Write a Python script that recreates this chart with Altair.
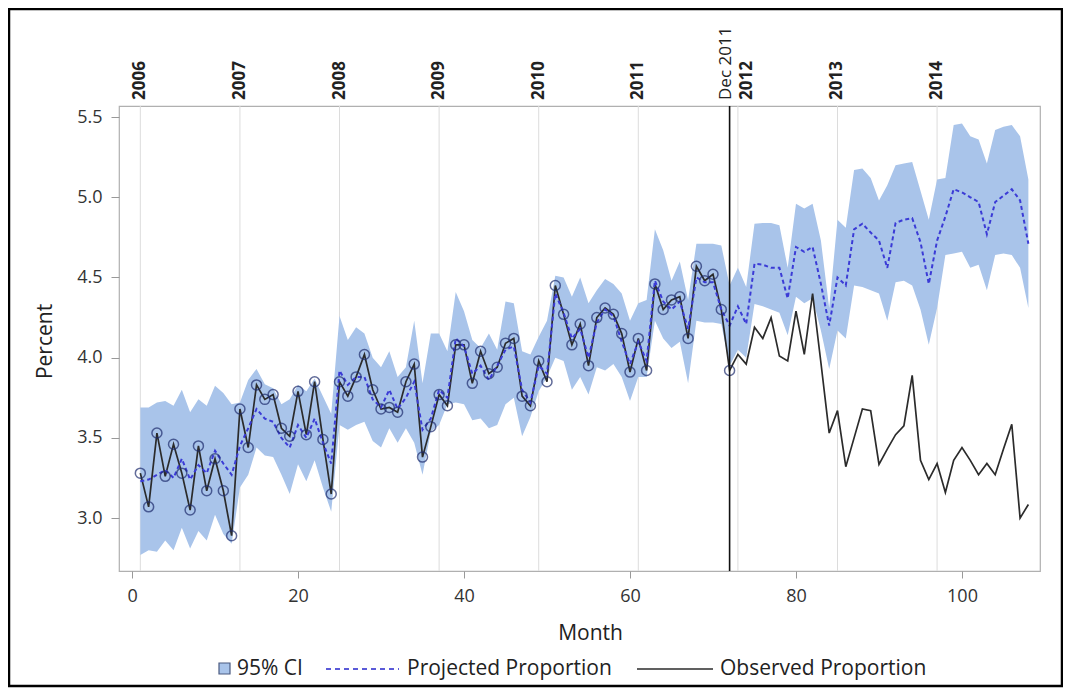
import altair as alt
import pandas as pd

# ---------------- data ----------------
months = list(range(1, 109))

observed = [
    3.28, 3.07, 3.53, 3.26, 3.46, 3.28, 3.05, 3.45, 3.17, 3.37, 3.17, 2.89,
    3.68, 3.44, 3.83, 3.74, 3.77, 3.56, 3.51, 3.79, 3.52, 3.85, 3.49, 3.15,
    3.85, 3.76, 3.88, 4.02, 3.80, 3.68, 3.69, 3.66, 3.85, 3.96, 3.38, 3.57,
    3.77, 3.70, 4.08, 4.08, 3.84, 4.04, 3.90, 3.94, 4.09, 4.12, 3.76, 3.70,
    3.98, 3.85, 4.45, 4.27, 4.08, 4.21, 3.95, 4.25, 4.31, 4.27, 4.15, 3.91,
    4.12, 3.92, 4.46, 4.30, 4.36, 4.38, 4.12, 4.57, 4.48, 4.52, 4.30, 3.92,
    4.02, 3.96, 4.19, 4.12, 4.25, 4.01, 3.98, 4.29, 4.02, 4.40, 3.97, 3.53,
    3.67, 3.32, 3.50, 3.68, 3.67, 3.335, 3.43, 3.52, 3.575, 3.89, 3.36, 3.24,
    3.34, 3.16, 3.36, 3.44, 3.36, 3.27, 3.34, 3.27, 3.43, 3.585, 3.00, 3.085,
]

projected = [
    3.23, 3.24, 3.27, 3.30, 3.25, 3.37, 3.24, 3.33, 3.28, 3.42, 3.34, 3.27,
    3.45, 3.56, 3.68, 3.62, 3.60, 3.50, 3.44, 3.58, 3.50, 3.62, 3.47, 3.34,
    3.92, 3.83, 3.88, 3.88, 3.74, 3.69, 3.80, 3.68, 3.75, 3.85, 3.55, 3.62,
    3.80, 3.75, 4.12, 4.07, 3.90, 3.95, 3.86, 3.95, 4.05, 4.07, 3.80, 3.72,
    3.95, 3.90, 4.40, 4.28, 4.12, 4.18, 4.00, 4.22, 4.30, 4.26, 4.10, 3.96,
    4.10, 3.98, 4.48, 4.35, 4.30, 4.35, 4.18, 4.50, 4.47, 4.47, 4.30, 4.20,
    4.32, 4.21, 4.585, 4.58, 4.56, 4.56, 4.37, 4.69, 4.66, 4.69, 4.46, 4.20,
    4.50, 4.45, 4.80, 4.835, 4.78, 4.73, 4.56, 4.84, 4.86, 4.87, 4.72, 4.46,
    4.73, 4.88, 5.05, 5.03, 5.00, 4.97, 4.77, 4.97, 5.01, 5.05, 4.98, 4.71,
]

ci_upper = [
    3.69, 3.69, 3.72, 3.73, 3.70, 3.80, 3.66, 3.74, 3.70, 3.825, 3.78, 3.71,
    3.72, 3.86, 3.93, 3.835, 3.81, 3.71, 3.74, 3.83, 3.79, 3.87, 3.76, 3.65,
    4.26, 4.11, 4.19, 4.15, 4.00, 3.94, 4.04, 3.88, 3.94, 4.23, 3.84, 4.15,
    4.15, 4.04, 4.41, 4.29, 4.11, 4.06, 4.15, 4.05, 4.35, 4.34, 4.04, 4.02,
    4.13, 4.23, 4.51, 4.50, 4.38, 4.50, 4.34, 4.42, 4.49, 4.46, 4.40, 4.23,
    4.34, 4.36, 4.80, 4.67, 4.48, 4.60, 4.36, 4.71, 4.71, 4.71, 4.70, 4.45,
    4.56, 4.44, 4.835, 4.84, 4.84, 4.825, 4.56, 4.96, 4.93, 4.96, 4.73, 4.31,
    4.86, 4.81, 5.17, 5.18, 5.12, 4.98, 5.075, 5.20, 5.21, 5.22, 5.04, 4.86,
    5.11, 5.12, 5.45, 5.46, 5.38, 5.36, 5.21, 5.42, 5.44, 5.45, 5.38, 5.11,
]

ci_lower = [
    2.77, 2.80, 2.79, 2.86, 2.80, 2.94, 2.81, 2.92, 2.86, 3.02, 2.90, 2.84,
    3.19, 3.27, 3.44, 3.39, 3.38, 3.27, 3.15, 3.335, 3.23, 3.36, 3.19, 3.04,
    3.58, 3.55, 3.58, 3.60, 3.48, 3.44, 3.56, 3.47, 3.56, 3.47, 3.27, 3.54,
    3.58, 3.71, 3.72, 3.71, 3.61, 3.62, 3.56, 3.58, 3.71, 3.75, 3.51, 3.63,
    3.79, 3.88, 4.00, 3.98, 3.80, 3.88, 3.77, 3.94, 3.92, 3.96, 3.88, 3.73,
    3.88, 3.88, 4.23, 4.12, 4.06, 4.10, 3.84, 4.23, 4.22, 4.22, 4.21, 3.95,
    4.05, 4.00, 4.335, 4.32, 4.30, 4.28, 4.14, 4.38, 4.34, 4.37, 4.17, 3.93,
    4.17, 4.12, 4.45, 4.44, 4.42, 4.40, 4.23, 4.47, 4.48, 4.45, 4.30, 4.08,
    4.31, 4.64, 4.65, 4.66, 4.56, 4.58, 4.42, 4.64, 4.65, 4.64, 4.56, 4.31,
]

last_observed_marked = 72          # months with circle markers
cutoff_month = 72
cutoff_label = "Dec 2011"

year_labels = ["2006", "2007", "2008", "2009", "2010", "2011", "2013", "2014"]
year_label_months = [1, 13, 25, 37, 49, 61, 85, 97]
label_2012 = "2012"
month_2012 = 73
grid_months = [1, 13, 25, 37, 49, 61, 73, 85, 97]

x_ticks = [0, 20, 40, 60, 80, 100]
y_ticks = [3.0, 3.5, 4.0, 4.5, 5.0, 5.5]

legend_ci = "95% CI"
legend_proj = "Projected Proportion"
legend_obs = "Observed Proportion"

# ---------------- tables ----------------
df = pd.DataFrame({
    "Month": months,
    "Observed": observed,
    "Projected": projected,
    "Lower": ci_lower,
    "Upper": ci_upper,
})
df_marked = df[df["Month"] <= last_observed_marked]
df_grid = pd.DataFrame({"Month": grid_months})
df_years = pd.DataFrame({"Month": year_label_months, "Label": year_labels})
df_2012 = pd.DataFrame({"Month": [month_2012], "Label": [label_2012]})
df_cut = pd.DataFrame({"Month": [cutoff_month], "Label": [cutoff_label]})
one = pd.DataFrame({"k": [0]})

W, H = 921, 465
FONT = "Open Sans"

xscale = alt.Scale(domain=[-1.57, 109.4], nice=False, zero=False)
yscale = alt.Scale(domain=[2.67, 5.569], nice=False, zero=False)

xaxis = alt.Axis(values=x_ticks, title="Month", tickSize=7, labelPadding=9,
                 titleX=471, titleY=62, titleAlign="center", titleBaseline="middle")
yaxis = alt.Axis(values=y_ticks, format=".1f", title="Percent", tickSize=8,
                 labelPadding=9, titleX=-74, titleY=235, titleAngle=270,
                 titleAlign="center", titleBaseline="middle")


def X(field="Month"):
    return alt.X(f"{field}:Q", scale=xscale, axis=xaxis)


def Y(field):
    return alt.Y(f"{field}:Q", scale=yscale, axis=yaxis)


grid = alt.Chart(df_grid).mark_rule(color="#dcdcdc", strokeWidth=1).encode(x=X())

band = alt.Chart(df).mark_area(color="#a9c4ea", opacity=1).encode(
    x=X(), y=Y("Lower"), y2="Upper:Q")

obs_line = alt.Chart(df).mark_line(color="#2b2b2b", strokeWidth=1.7).encode(
    x=X(), y=Y("Observed"))

proj_line = alt.Chart(df).mark_line(color="#3b3bd6", strokeWidth=2,
                                     strokeDash=[4, 3]).encode(
    x=X(), y=Y("Projected"))

circles = alt.Chart(df_marked).mark_point(
    shape="circle", filled=False, size=100, color="#1f2d6e", strokeWidth=1.5
).encode(x=X(), y=Y("Observed"))

cut_rule = alt.Chart(df_cut).mark_rule(color="#111111", strokeWidth=1.6).encode(x=X())

years_text = alt.Chart(df_years).mark_text(
    angle=270, align="left", baseline="middle", font=FONT, fontSize=17,
    fontWeight="bold", color="#222222"
).encode(x=X(), y=alt.value(-6), text="Label:N")

text_2012 = alt.Chart(df_2012).mark_text(
    angle=270, align="left", baseline="middle", font=FONT, fontSize=17,
    fontWeight="bold", color="#222222", dy=9
).encode(x=X(), y=alt.value(-6), text="Label:N")

cut_text = alt.Chart(df_cut).mark_text(
    angle=270, align="left", baseline="middle", font=FONT, fontSize=17,
    color="#222222", dy=-4
).encode(x=X(), y=alt.value(-6), text="Label:N")

# ---------------- legend ----------------
LY = 563
leg_box = alt.Chart(one).mark_rect(fill="#a9c4ea", stroke="#4a5a80", strokeWidth=1.2).encode(
    x=alt.value(100), x2=alt.value(111), y=alt.value(LY - 6), y2=alt.value(LY + 5))
leg_ci = alt.Chart(one).mark_text(align="left", baseline="middle", font=FONT,
                                  fontSize=21, color="#222222").encode(
    x=alt.value(118), y=alt.value(LY), text=alt.value(legend_ci))
leg_dash = alt.Chart(one).mark_rule(color="#5a5ad8", strokeWidth=2, strokeDash=[5, 4]).encode(
    x=alt.value(207), x2=alt.value(280), y=alt.value(LY))
leg_proj = alt.Chart(one).mark_text(align="left", baseline="middle", font=FONT,
                                    fontSize=21, color="#222222").encode(
    x=alt.value(288), y=alt.value(LY), text=alt.value(legend_proj))
leg_solid = alt.Chart(one).mark_rule(color="#2b2b2b", strokeWidth=1.6).encode(
    x=alt.value(518), x2=alt.value(594), y=alt.value(LY))
leg_obs = alt.Chart(one).mark_text(align="left", baseline="middle", font=FONT,
                                   fontSize=21, color="#222222").encode(
    x=alt.value(601), y=alt.value(LY), text=alt.value(legend_obs))

outer = alt.Chart(one).mark_rect(filled=False, stroke="black", strokeWidth=2.5).encode(
    x=alt.value(-110), x2=alt.value(943), y=alt.value(-97), y2=alt.value(580))

chart = alt.layer(
    grid, band, obs_line, proj_line, circles, cut_rule,
    years_text, text_2012, cut_text,
    leg_box, leg_ci, leg_dash, leg_proj, leg_solid, leg_obs, outer
).properties(
    width=W, height=H,
    autosize=alt.AutoSizeParams(type="none"),
    padding={"left": 111, "top": 98, "right": 23, "bottom": 117},
).configure_view(
    stroke="#b0b0b0", strokeWidth=1.2
).configure_axis(
    labelFont=FONT, labelFontSize=18, labelColor="#333333",
    titleFont=FONT, titleFontSize=21, titleFontWeight="normal", titleColor="#222222",
    tickColor="#999999", domain=False, grid=False,
)

chart.save("out.html", embed_options={"renderer": "svg", "actions": False})
